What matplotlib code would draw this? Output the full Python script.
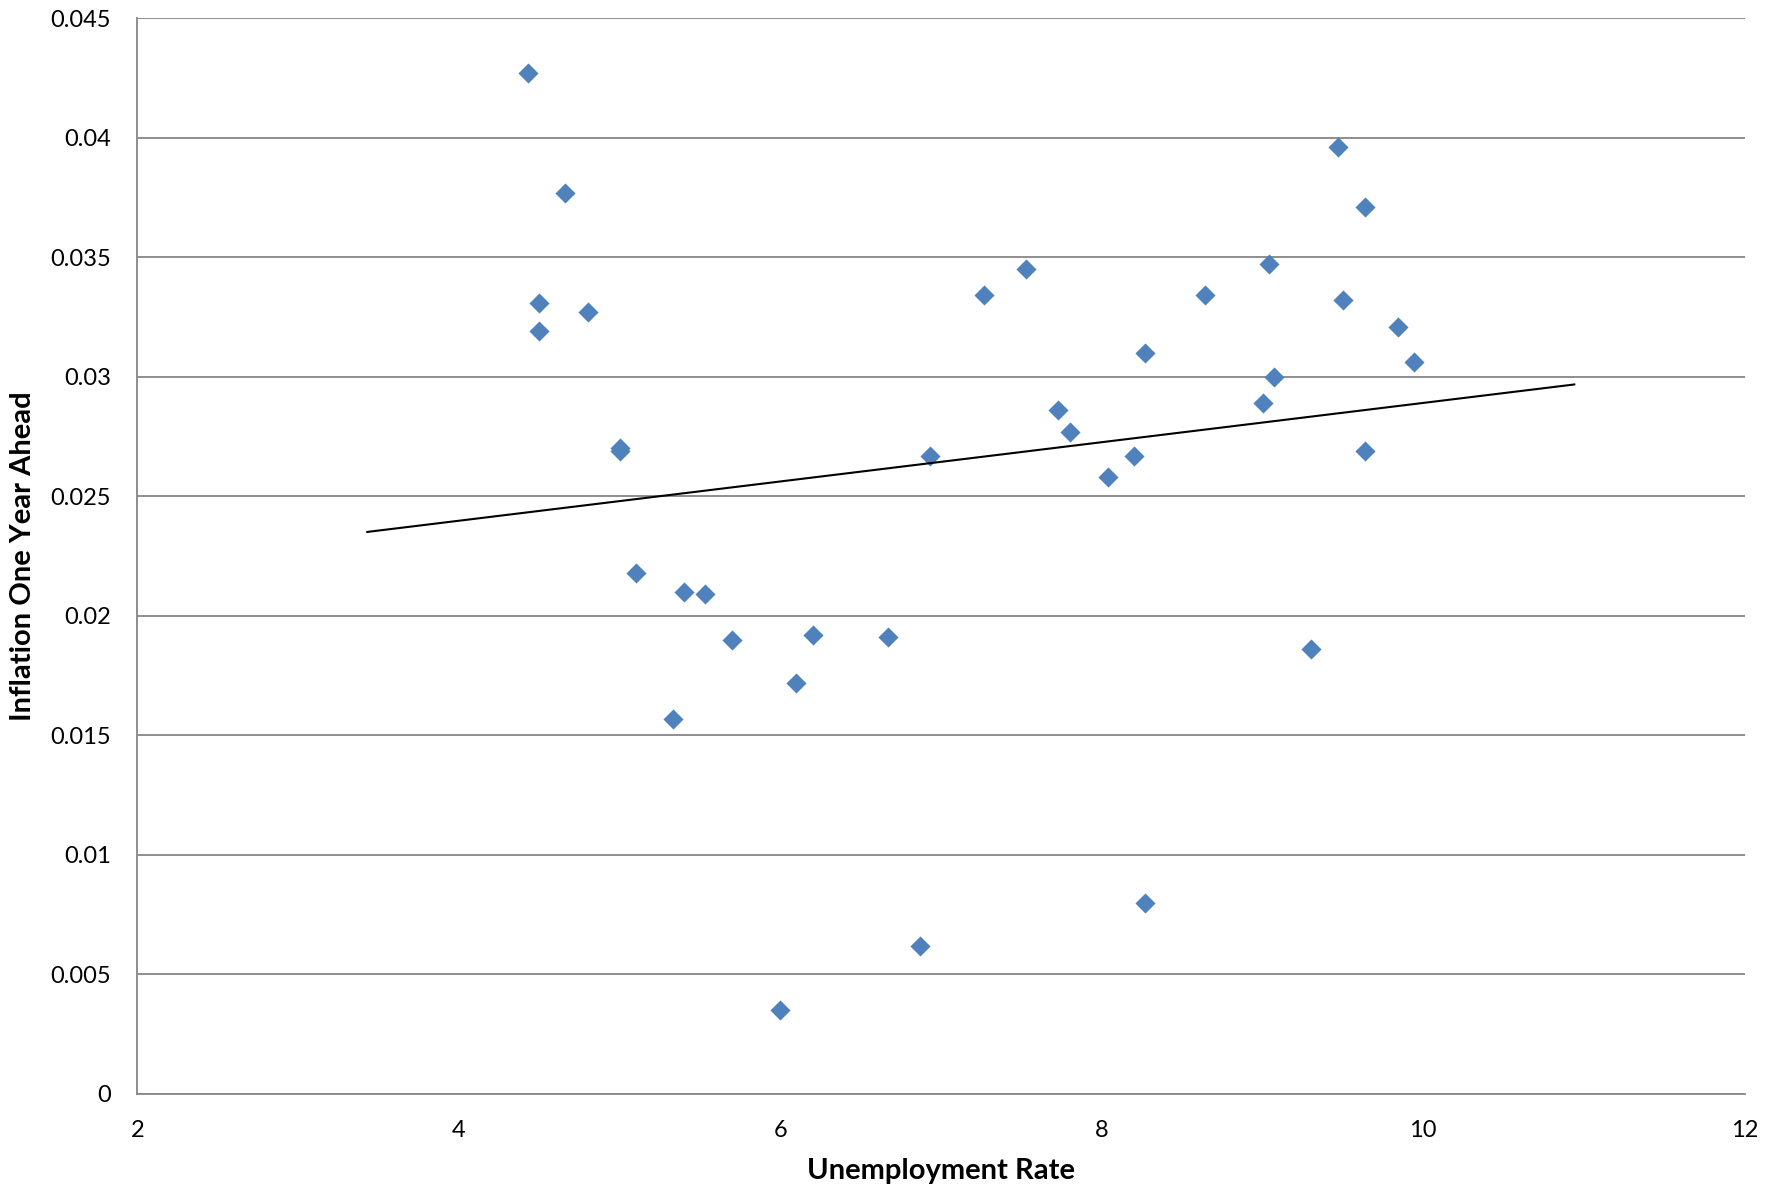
import numpy as np
import matplotlib.pyplot as plt

# Unemployment rate vs. inflation one year ahead
unemployment = [4.43, 4.66, 4.50, 4.50, 4.80, 5.00, 5.00, 5.10, 5.33, 5.40, 5.53,
                5.70, 6.00, 6.10, 6.20, 6.67, 6.87, 6.93, 7.27, 7.53, 7.73,
                7.80, 8.04, 8.20, 8.27, 8.27, 8.64, 9.00, 9.04, 9.07, 9.30,
                9.47, 9.50, 9.64, 9.64, 9.84, 9.94]
inflation = [0.0427, 0.0377, 0.0331, 0.0319, 0.0327, 0.0270, 0.0269, 0.0218, 0.0157, 0.0210, 0.0209,
             0.0190, 0.0035, 0.0172, 0.0192, 0.0191, 0.0062, 0.0267, 0.0334, 0.0345, 0.0286,
             0.0277, 0.0258, 0.0267, 0.0310, 0.0080, 0.0334, 0.0289, 0.0347, 0.0300, 0.0186,
             0.0396, 0.0332, 0.0371, 0.0269, 0.0321, 0.0306]

x = np.array(unemployment)
y = np.array(inflation)

plt.rcParams['font.family'] = ['Lato', 'DejaVu Sans']

fig = plt.figure(figsize=(17.81, 11.94), dpi=100)
ax = fig.add_axes([0.0772, 0.0839, 0.9024, 0.9009])

ax.scatter(x, y, marker='D', s=105, color='#4F81BD', linewidths=0, zorder=3)

# linear trend, extended one unit past the data on each side
slope, intercept = np.polyfit(x, y, 1)
xt = np.array([x.min() - 1, x.max() + 1])
ax.plot(xt, slope * xt + intercept, color='black', lw=1.5, zorder=4)

ax.set_xlim(2, 12)
ax.set_ylim(0, 0.045)
ax.set_xticks([2, 4, 6, 8, 10, 12])
ax.set_yticks(np.arange(0, 0.0451, 0.005))
ax.set_yticklabels(['0', '0.005', '0.01', '0.015', '0.02', '0.025',
                    '0.03', '0.035', '0.04', '0.045'])

ax.grid(axis='y', color='#868686', lw=1.3)
ax.set_axisbelow(True)
for side in ['top', 'right']:
    ax.spines[side].set_visible(False)
for side in ['left', 'bottom']:
    ax.spines[side].set_color('#868686')
    ax.spines[side].set_linewidth(1.3)
ax.tick_params(length=0, labelsize=17)
ax.tick_params(axis='y', pad=19)
ax.tick_params(axis='x', pad=19)

ax.set_xlabel('Unemployment Rate', fontsize=21, fontweight='bold', labelpad=12)
ax.set_ylabel('Inflation One Year Ahead', fontsize=21, fontweight='bold', labelpad=10)

fig.savefig('out.png', dpi=100)
